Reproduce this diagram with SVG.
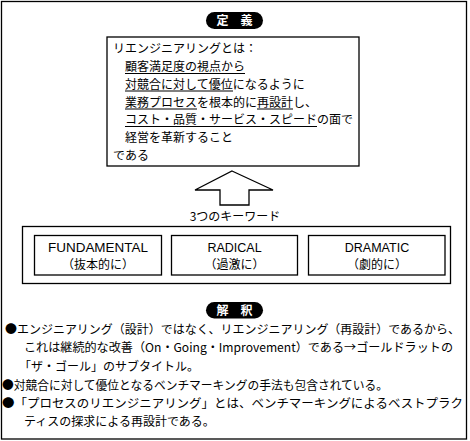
<svg xmlns="http://www.w3.org/2000/svg" width="470" height="441" viewBox="0 0 470 441">
<style>
text{font-family:"Noto Sans CJK JP","Liberation Sans",sans-serif;fill:#000;font-size:12px}
.box{fill:#fff;stroke:#000;stroke-width:1.3}
.pill{fill:#000}
.pilltxt{fill:#fff;font-weight:bold;font-size:12px}
.ul{stroke:#000;stroke-width:1.1}
.en{font-family:"Liberation Sans","Noto Sans CJK JP",sans-serif;font-size:12.5px}
.c{text-anchor:middle}
</style>
<rect x="0" y="0" width="470" height="441" fill="#fff"/>
<g id="frame"><rect class="box" x="1.5" y="1.5" width="465" height="437.5"/></g>

<g id="definition-label">
<rect class="pill" x="206" y="12" width="57" height="17" rx="8.5"/>
<text class="pilltxt c" x="234.5" y="25">定　義</text>
</g>

<g id="definition">
<rect class="box" x="107" y="37" width="252" height="129"/>
<text x="113" y="53">リエンジニアリングとは：</text>
<text x="125" y="71">顧客満足度の視点から</text>
<text x="125" y="88.5">対競合に対して優位になるように</text>
<text x="125" y="106.5">業務プロセスを根本的に再設計し、</text>
<text x="125" y="124">コスト・品質・サービス・スピードの面で</text>
<text x="125" y="142">経営を革新すること</text>
<text x="113" y="160">である</text>
<line class="ul" x1="125" y1="73.5" x2="245" y2="73.5"/>
<line class="ul" x1="125" y1="91" x2="233" y2="91"/>
<line class="ul" x1="125" y1="109" x2="197" y2="109"/>
<line class="ul" x1="257" y1="109" x2="293" y2="109"/>
<line class="ul" x1="125" y1="126.5" x2="317" y2="126.5"/>
</g>

<g id="connectors">
<polygon class="box" points="232,171 273,190 249,190 249,205 220,205 220,190 195,190"/>
</g>

<g id="keywords-label"><text class="c" x="235" y="221">3つのキーワード</text></g>

<g id="keywords">
<rect class="box" x="22.5" y="226.5" width="428" height="57"/>
</g>
<g id="kw-fundamental">
<rect class="box" x="34.5" y="235.5" width="127" height="39.5"/>
<text class="en c" x="98" y="252" textLength="100" lengthAdjust="spacingAndGlyphs">FUNDAMENTAL</text>
<text class="c" x="98" y="269">（抜本的に）</text>
</g>
<g id="kw-radical">
<rect class="box" x="171.5" y="235.5" width="126" height="39.5"/>
<text class="en c" x="234.5" y="252">RADICAL</text>
<text class="c" x="234.5" y="269">（過激に）</text>
</g>
<g id="kw-dramatic">
<rect class="box" x="308.5" y="235.5" width="136.5" height="39.5"/>
<text class="en c" x="377" y="252">DRAMATIC</text>
<text class="c" x="377" y="269">（劇的に）</text>
</g>

<g id="interpretation-label">
<rect class="pill" x="206" y="302" width="57" height="16.5" rx="8.25"/>
<text class="pilltxt c" x="234.5" y="314.8">解　釈</text>
</g>

<g id="interpretation">
<text x="5" y="333.5" textLength="455" lengthAdjust="spacingAndGlyphs">●エンジニアリング（設計）ではなく、リエンジニアリング（再設計）であるから、</text>
<text x="24" y="351.5" textLength="429" lengthAdjust="spacingAndGlyphs">これは継続的な改善（On・Going・Improvement）である→ゴールドラットの</text>
<text x="19" y="370.5">「ザ・ゴール」のサブタイトル。</text>
<text x="2" y="389.5" textLength="386" lengthAdjust="spacingAndGlyphs">●対競合に対して優位となるベンチマーキングの手法も包含されている。</text>
<text x="2" y="407.5" textLength="461" lengthAdjust="spacingAndGlyphs">●「プロセスのリエンジニアリング」とは、ベンチマーキングによるベストプラク</text>
<text x="24" y="425.5">ティスの探求による再設計である。</text>
</g>
</svg>
